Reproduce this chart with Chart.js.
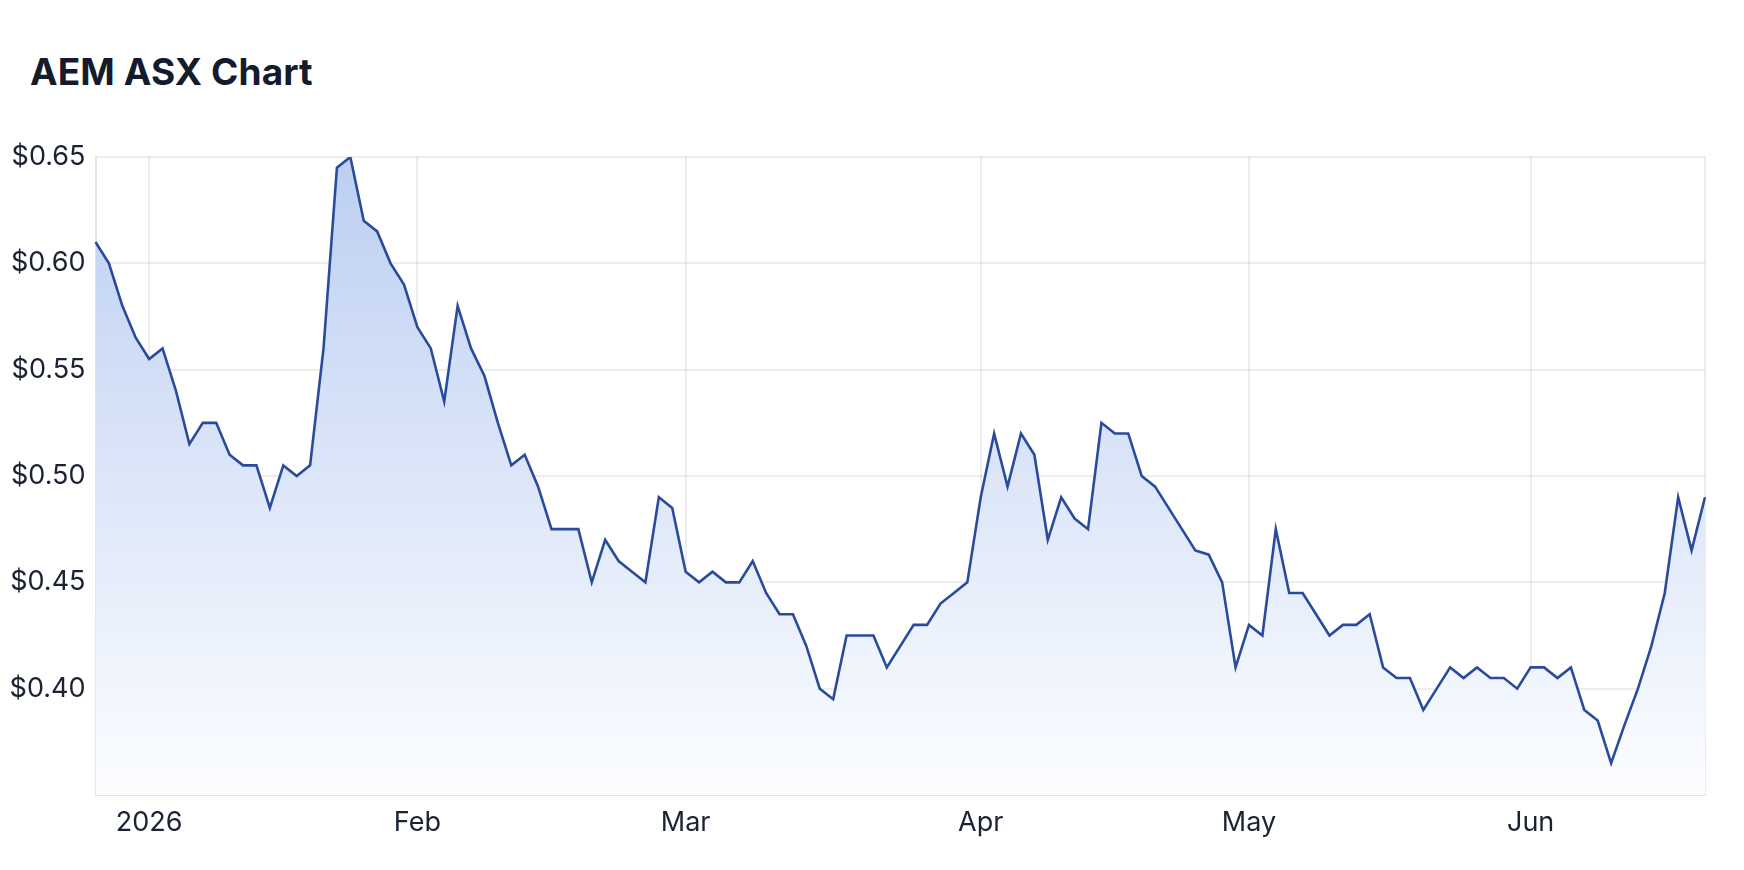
<!DOCTYPE html>
<html>
<head>
<meta charset="utf-8">
<script src="https://cdn.jsdelivr.net/npm/chart.js@4.4.1/dist/chart.umd.min.js"></script>
<style>
  html, body { margin: 0; padding: 0; background: #ffffff; }
  #wrap { position: relative; width: 1744px; height: 870px; overflow: hidden; }
  #title { position: absolute; left: 30px; top: 52px; margin: 0; font-family: Inter, "Noto Sans", sans-serif;
           font-weight: 700; font-size: 37px; line-height: 40px; color: #141b2d; letter-spacing: 0.1px; }
  canvas { position: absolute; left: 0; top: 0; }
</style>
</head>
<body>
<div id="wrap">
  <h1 id="title">AEM ASX Chart</h1>
  <canvas id="c" width="1744" height="870"></canvas>
</div>
<script>
// Trading days (categories)
const dates = [
  "2025-12-24","2025-12-29","2025-12-30","2025-12-31",
  "2026-01-02","2026-01-05","2026-01-06","2026-01-07","2026-01-08","2026-01-09",
  "2026-01-12","2026-01-13","2026-01-14","2026-01-15","2026-01-16",
  "2026-01-19","2026-01-20","2026-01-21","2026-01-22","2026-01-23",
  "2026-01-27","2026-01-28","2026-01-29","2026-01-30",
  "2026-02-02","2026-02-03","2026-02-04","2026-02-05","2026-02-06",
  "2026-02-09","2026-02-10","2026-02-11","2026-02-12","2026-02-13",
  "2026-02-16","2026-02-17","2026-02-18","2026-02-19","2026-02-20",
  "2026-02-23","2026-02-24","2026-02-25","2026-02-26","2026-02-27",
  "2026-03-02","2026-03-03","2026-03-04","2026-03-05","2026-03-06",
  "2026-03-09","2026-03-10","2026-03-11","2026-03-12","2026-03-13",
  "2026-03-16","2026-03-17","2026-03-18","2026-03-19","2026-03-20",
  "2026-03-23","2026-03-24","2026-03-25","2026-03-26","2026-03-27",
  "2026-03-30","2026-03-31",
  "2026-04-01","2026-04-02","2026-04-07","2026-04-08","2026-04-09","2026-04-10",
  "2026-04-13","2026-04-14","2026-04-15","2026-04-16","2026-04-17",
  "2026-04-20","2026-04-21","2026-04-22","2026-04-23","2026-04-24",
  "2026-04-27","2026-04-28","2026-04-29","2026-04-30",
  "2026-05-01","2026-05-04","2026-05-05","2026-05-06","2026-05-07","2026-05-08",
  "2026-05-11","2026-05-12","2026-05-13","2026-05-14","2026-05-15",
  "2026-05-18","2026-05-19","2026-05-20","2026-05-21","2026-05-22",
  "2026-05-25","2026-05-26","2026-05-27","2026-05-28","2026-05-29",
  "2026-06-01","2026-06-02","2026-06-03","2026-06-04","2026-06-05",
  "2026-06-09","2026-06-10","2026-06-11","2026-06-12",
  "2026-06-15","2026-06-16","2026-06-17","2026-06-18","2026-06-19"
];

// Closing prices (AUD)
const prices = [
  0.61, 0.60, 0.58, 0.565,
  0.555, 0.56, 0.54, 0.515, 0.525, 0.525,
  0.51, 0.505, 0.505, 0.485, 0.505,
  0.50, 0.505, 0.56, 0.645, 0.65,
  0.62, 0.615, 0.60, 0.59,
  0.57, 0.56, 0.535, 0.58, 0.56,
  0.547, 0.525, 0.505, 0.51, 0.495,
  0.475, 0.475, 0.475, 0.45, 0.47,
  0.46, 0.455, 0.45, 0.49, 0.485,
  0.455, 0.45, 0.455, 0.45, 0.45,
  0.46, 0.445, 0.435, 0.435, 0.42,
  0.40, 0.395, 0.425, 0.425, 0.425,
  0.41, 0.42, 0.43, 0.43, 0.44,
  0.445, 0.45,
  0.49, 0.52, 0.495, 0.52, 0.51, 0.47,
  0.49, 0.48, 0.475, 0.525, 0.52,
  0.52, 0.50, 0.495, 0.485, 0.475,
  0.465, 0.463, 0.45, 0.41,
  0.43, 0.425, 0.475, 0.445, 0.445, 0.435,
  0.425, 0.43, 0.43, 0.435, 0.41,
  0.405, 0.405, 0.39, 0.40, 0.41,
  0.405, 0.41, 0.405, 0.405, 0.40,
  0.41, 0.41, 0.405, 0.41, 0.39,
  0.385, 0.365, 0.383, 0.40,
  0.42, 0.445, 0.49, 0.465, 0.49
];

// Y axis ticks
const yTicks = [0.40, 0.45, 0.50, 0.55, 0.60, 0.65];
const yMin = 0.35, yMax = 0.65;
const monthNames = ["2026","Feb","Mar","Apr","May","Jun","Jul","Aug","Sep","Oct","Nov","Dec"];

const ctx = document.getElementById('c').getContext('2d');

function monthLabel(i) {
  if (i === dates.length - 1) return '';
  if (i === 0) return null;
  const m = dates[i].slice(0, 7);
  const pm = dates[i - 1].slice(0, 7);
  if (m === pm) return null;
  const mi = parseInt(dates[i].slice(5, 7), 10) - 1;
  return monthNames[mi];
}

new Chart(ctx, {
  type: 'line',
  data: {
    labels: dates,
    datasets: [{
      data: prices,
      borderColor: '#2a4b9b',
      borderWidth: 2.6,
      pointRadius: 0,
      tension: 0,
      fill: 'start',
      backgroundColor: function(context) {
        const area = context.chart.chartArea;
        if (!area) return 'rgba(196,213,243,1)';
        const g = context.chart.ctx.createLinearGradient(0, area.top, 0, area.bottom);
        g.addColorStop(0, 'rgba(188,207,242,1)');
        g.addColorStop(1, 'rgba(252,253,255,1)');
        return g;
      }
    }]
  },
  options: {
    responsive: false,
    animation: false,
    devicePixelRatio: 1,
    layout: { padding: { top: 157, right: 39, left: 0, bottom: 0 } },
    plugins: { legend: { display: false }, tooltip: { enabled: false }, title: { display: false } },
    scales: {
      x: {
        type: 'category',
        offset: false,
        afterFit: function(s) { s.height = 75; },
        grid: { color: 'rgba(0,0,0,0.07)', lineWidth: 2, drawTicks: false },
        border: { color: '#e4e4e4', width: 2 },
        ticks: {
          autoSkip: false, maxRotation: 0, minRotation: 0, padding: 12,
          color: '#1b2233',
          font: { family: 'Inter, "Noto Sans", sans-serif', size: 27 },
          callback: function(v, i) { return monthLabel(i); }
        }
      },
      y: {
        min: yMin, max: yMax,
        afterFit: function(s) { s.width = 95.5; },
        afterBuildTicks: function(s) { s.ticks = yTicks.map(v => ({ value: v })); },
        grid: { color: 'rgba(0,0,0,0.07)', lineWidth: 2, drawTicks: false },
        border: { color: '#e4e4e4', width: 2 },
        ticks: {
          padding: 10,
          color: '#1b2233',
          font: { family: 'Inter, "Noto Sans", sans-serif', size: 27 },
          callback: function(v) { return '$' + Number(v).toFixed(2); }
        }
      }
    }
  }
});
</script>
</body>
</html>
